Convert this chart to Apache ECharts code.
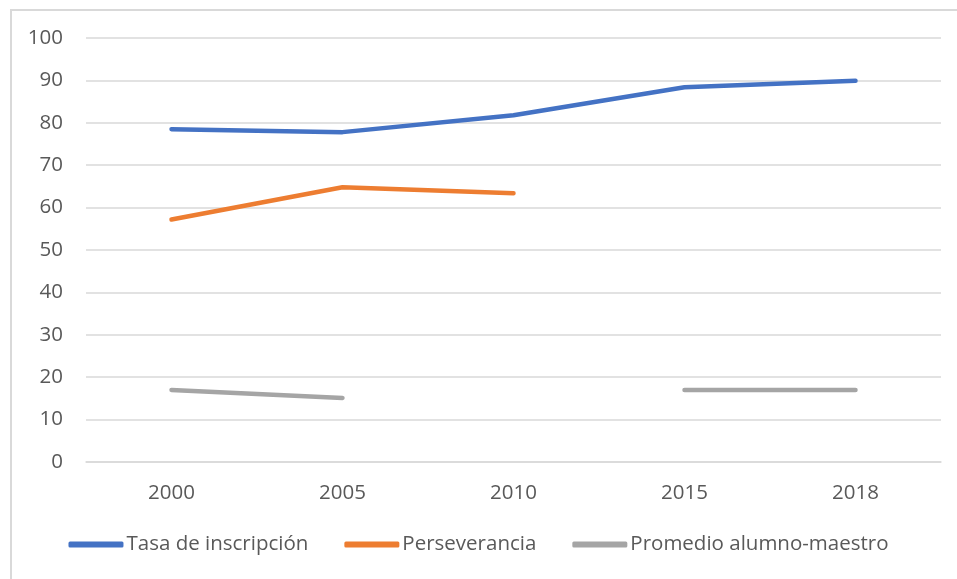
<!DOCTYPE html>
<html>
<head>
<meta charset="utf-8">
<script src="https://cdn.jsdelivr.net/npm/echarts@6/dist/echarts.min.js"></script>
<style>
  html, body { margin: 0; padding: 0; background: #fff; }
  #frame { position: absolute; left: 10px; top: 9px; width: 960px; height: 580px;
           border-top: 2px solid #d9d9d9; border-left: 2px solid #d9d9d9; }
  #chart { position: absolute; left: 0; top: 0; width: 957px; height: 579px; }
</style>
</head>
<body>
<div id="frame"></div>
<div id="chart"></div>
<script>
  var years = ['2000', '2005', '2010', '2015', '2018']
  var tasaInscripcion = [78.5, 77.8, 81.8, 88.4, 89.9]
  var perseverancia = [57.2, 64.8, 63.4, null, null]
  var promedioAlumnoMaestro = [17, 15.1, null, 17, 17]

  var textColor = '#595959'
  var font = 'Open Sans'

  function lineSeries(name, data, color) {
    return {
      name: name,
      type: 'line',
      data: data,
      symbol: 'none',
      connectNulls: false,
      lineStyle: { color: color, width: 4.5, cap: 'round', join: 'round' },
      itemStyle: { color: color }
    }
  }

  var chart = echarts.init(document.getElementById('chart'))
  var option = {
    animation: false,
    textStyle: { fontFamily: font },
    grid: { left: 86, right: 16, top: 38, bottom: 117 },
    legend: {
      bottom: 19,
      left: 'center',
      icon: 'roundRect',
      itemWidth: 55,
      itemHeight: 6,
      itemGap: 36,
      textStyle: { color: textColor, fontSize: 20.5, fontFamily: font, padding: [0, 0, 0, -2] },
      data: ['Tasa de inscripción', 'Perseverancia', 'Promedio alumno-maestro']
    },
    xAxis: {
      type: 'category',
      data: years,
      boundaryGap: true,
      axisLine: { show: true, lineStyle: { color: '#d9d9d9', width: 1.5 } },
      axisTick: { show: false },
      axisLabel: { color: textColor, fontSize: 20.5, margin: 21 }
    },
    yAxis: {
      type: 'value',
      min: 0,
      max: 100,
      interval: 10,
      axisLine: { show: false },
      axisTick: { show: false },
      axisLabel: { color: textColor, fontSize: 20.5, margin: 23 },
      splitLine: { lineStyle: { color: '#d9d9d9', width: 1.5 } }
    },
    series: [
      lineSeries('Tasa de inscripción', tasaInscripcion, '#4472C4'),
      lineSeries('Perseverancia', perseverancia, '#ED7D31'),
      lineSeries('Promedio alumno-maestro', promedioAlumnoMaestro, '#A5A5A5')
    ]
  }
  chart.setOption(option)
</script>
</body>
</html>
